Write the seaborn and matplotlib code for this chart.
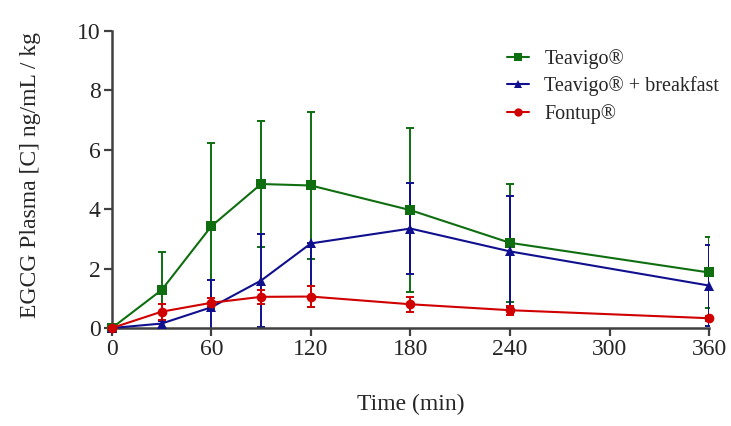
import numpy as np
import pandas as pd
import seaborn as sns
import matplotlib.pyplot as plt

time_min = [0, 30, 60, 90, 120, 180, 240, 360]

teavigo = [0.0, 1.28, 3.43, 4.85, 4.80, 3.97, 2.87, 1.87]
teavigo_sd = [0.0, 1.29, 2.80, 2.11, 2.48, 2.75, 1.98, 1.21]

breakfast = [0.0, 0.15, 0.70, 1.60, 2.85, 3.35, 2.58, 1.43]
breakfast_sd_lo = [0.0, 0.15, 0.93, 1.57, 2.13, 1.53, 1.88, 1.36]
breakfast_sd_hi = [0.0, 0.10, 0.93, 1.57, 0.0, 1.53, 1.88, 1.36]

fontup = [0.0, 0.55, 0.85, 1.05, 1.06, 0.80, 0.60, 0.33]
fontup_sd = [0.0, 0.27, 0.15, 0.23, 0.36, 0.25, 0.15, 0.08]

names = ["Teavigo®", "Teavigo® + breakfast", "Fontup®"]
colors = {"Teavigo®": "#0f6e0f", "Teavigo® + breakfast": "#10108f", "Fontup®": "#d00000"}
markers = {"Teavigo®": "s", "Teavigo® + breakfast": "^", "Fontup®": "o"}

df = pd.DataFrame({
    "time": time_min * 3,
    "conc": teavigo + breakfast + fontup,
    "group": [names[0]] * 8 + [names[1]] * 8 + [names[2]] * 8,
})

sns.set_style("ticks")
plt.rcParams["font.family"] = ["Liberation Serif", "DejaVu Serif"]

fig, ax = plt.subplots(figsize=(7.31, 4.26), dpi=100)
fig.subplots_adjust(left=0.153, right=0.970, bottom=0.230, top=0.927)

errs = {
    names[0]: (teavigo, [teavigo_sd, teavigo_sd]),
    names[1]: (breakfast, [breakfast_sd_lo, breakfast_sd_hi]),
    names[2]: (fontup, [fontup_sd, fontup_sd]),
}
for name in names:
    y, yerr = errs[name]
    eb = ax.errorbar(time_min, y, yerr=yerr, fmt="none", ecolor=colors[name],
                     elinewidth=1.4, capsize=3, capthick=1.4, zorder=2)

sns.lineplot(data=df, x="time", y="conc", hue="group", style="group",
             hue_order=names, style_order=names, palette=colors,
             markers=markers, dashes=False, markersize=7, linewidth=1.5,
             markeredgewidth=0, ax=ax, zorder=3, clip_on=False)

ax.set_xlim(0, 360)
ax.set_ylim(0, 10)
ax.set_xticks(range(0, 361, 60))
ax.set_yticks(range(0, 11, 2))
ax.set_xlabel("Time (min)", fontsize=17)
ax.set_ylabel("EGCG Plasma [C] ng/mL / kg", fontsize=17)
ax.xaxis.set_label_coords(0.5, -0.256)
ax.xaxis.label.set_va("center")
ax.yaxis.set_label_coords(-0.137, 0.515)
ax.yaxis.label.set_va("center")
ax.tick_params(labelsize=17, length=6, width=1.6, color="#404040", pad=2)
for s in ("left", "bottom"):
    ax.spines[s].set_linewidth(1.8)
    ax.spines[s].set_color("#404040")
sns.despine(ax=ax)

leg = ax.legend(loc="upper left", bbox_to_anchor=(0.662, 0.94), frameon=False,
                fontsize=14.5, handlelength=1.1, handletextpad=0.75,
                labelspacing=0.38, borderaxespad=0, borderpad=0)
for line in leg.get_lines():
    line.set_markersize(6)

fig.savefig("out.png", dpi=100)
